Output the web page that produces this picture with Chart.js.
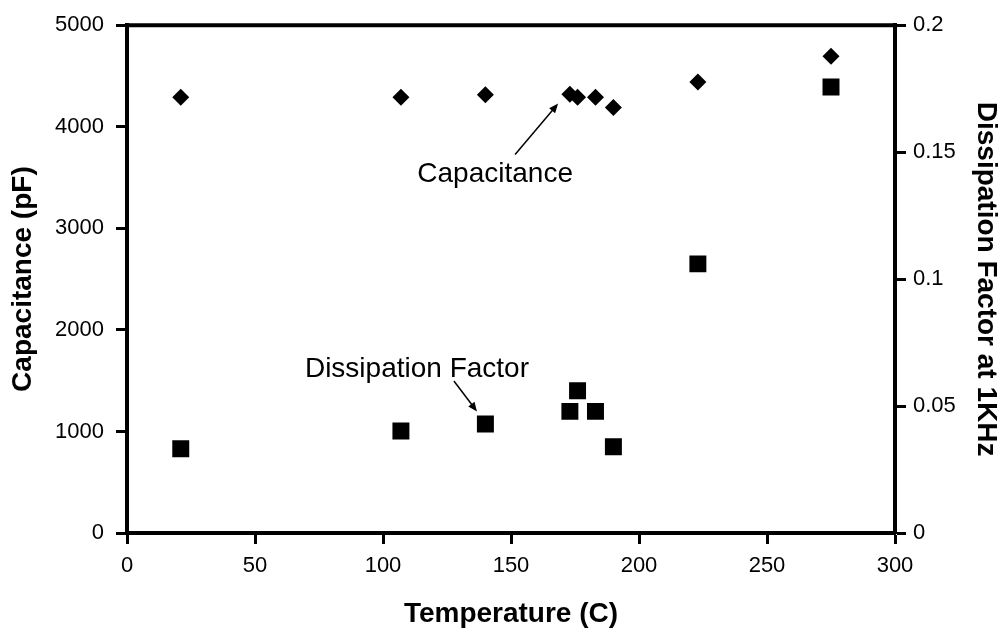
<!DOCTYPE html>
<html>
<head>
<meta charset="utf-8">
<script src="https://cdn.jsdelivr.net/npm/chart.js@4/dist/chart.umd.min.js"></script>
<style>
  html, body { margin: 0; padding: 0; background: #fff; }
  #wrap { width: 1005px; height: 633px; }
</style>
</head>
<body>
<div id="wrap"><canvas id="chart" width="1005" height="633"></canvas></div>
<script>
const temperatures = [21, 107, 140, 173, 176, 183, 190, 223, 275];
const capacitance = [4290, 4290, 4315, 4320, 4290, 4290, 4190, 4440, 4695];
const dissipation = [0.0332, 0.0402, 0.0429, 0.0479, 0.0560, 0.0479, 0.0340, 0.1060, 0.1757];

const xTicks = ['0', '50', '100', '150', '200', '250', '300'];
const capTicks = ['0', '1000', '2000', '3000', '4000', '5000'];
const dfTicks = ['0', '0.05', '0.1', '0.15', '0.2'];

// annotation anchors in data units (x = temperature, y = capacitance scale)
const notes = [
    { text: 'Capacitance', x: 143.8, y: 3456, align: 'center', from: [151.6, 3726], to: [168.4, 4228] },
    { text: 'Dissipation Factor', x: 69.5, y: 1535, align: 'left', from: [127.7, 1496], to: [136.7, 1197] }
];

const FONT = "'Liberation Sans', Arial, sans-serif";

const annotations = {
    id: 'annotations',
    afterDraw(chart) {
        const { ctx, chartArea, scales } = chart;
        ctx.save();
        // top frame line
        ctx.strokeStyle = '#000';
        ctx.lineWidth = 4;
        ctx.beginPath();
        ctx.moveTo(chartArea.left - 2, chartArea.top);
        ctx.lineTo(chartArea.right + 2, chartArea.top);
        ctx.stroke();

        ctx.fillStyle = '#000';
        ctx.font = '28px ' + FONT;
        ctx.textBaseline = 'alphabetic';
        notes.forEach(n => {
            ctx.textAlign = n.align;
            ctx.fillText(n.text, scales.x.getPixelForValue(n.x), scales.y.getPixelForValue(n.y));

            const x1 = scales.x.getPixelForValue(n.from[0]);
            const y1 = scales.y.getPixelForValue(n.from[1]);
            const x2 = scales.x.getPixelForValue(n.to[0]);
            const y2 = scales.y.getPixelForValue(n.to[1]);
            const ang = Math.atan2(y2 - y1, x2 - x1);
            const head = 10;
            ctx.lineWidth = 1.5;
            ctx.beginPath();
            ctx.moveTo(x1, y1);
            ctx.lineTo(x2 - Math.cos(ang) * head * 0.8, y2 - Math.sin(ang) * head * 0.8);
            ctx.stroke();
            ctx.beginPath();
            ctx.moveTo(x2, y2);
            ctx.lineTo(x2 - head * Math.cos(ang - 0.4), y2 - head * Math.sin(ang - 0.4));
            ctx.lineTo(x2 - head * Math.cos(ang + 0.4), y2 - head * Math.sin(ang + 0.4));
            ctx.closePath();
            ctx.fill();
        });
        ctx.restore();
    }
};

const axisGrid = {
    display: true,
    drawOnChartArea: false,
    drawTicks: true,
    tickLength: 11,
    tickWidth: 3,
    color: '#000'
};
const axisBorder = { display: true, width: 4, color: '#000' };

const ctx = document.getElementById('chart').getContext('2d');

new Chart(ctx, {
    type: 'scatter',
    data: {
        datasets: [{
            label: 'Capacitance',
            data: temperatures.map((t, i) => ({ x: t, y: capacitance[i] })),
            yAxisID: 'y',
            pointStyle: 'rectRot',
            pointRadius: 8.5,
            pointBackgroundColor: '#000',
            pointBorderWidth: 0,
            pointHoverRadius: 8.5
        }, {
            label: 'Dissipation Factor',
            data: temperatures.map((t, i) => ({ x: t, y: dissipation[i] })),
            yAxisID: 'y1',
            pointStyle: 'rect',
            pointRadius: 12,
            pointBackgroundColor: '#000',
            pointBorderWidth: 0,
            pointHoverRadius: 12
        }]
    },
    options: {
        responsive: false,
        animation: false,
        layout: { padding: { top: 15, left: 0, right: 0, bottom: 0 } },
        plugins: {
            legend: { display: false },
            tooltip: { enabled: false }
        },
        scales: {
            x: {
                type: 'linear',
                min: 0,
                max: 300,
                afterFit: s => { s.height = 100; },
                grid: axisGrid,
                border: axisBorder,
                ticks: {
                    stepSize: 50,
                    padding: 9,
                    color: '#000',
                    font: { family: FONT, size: 22 },
                    callback: (v, i) => xTicks[i]
                },
                title: {
                    display: true,
                    text: 'Temperature (C)',
                    color: '#000',
                    font: { family: FONT, size: 28, weight: 'bold', lineHeight: 1.2 },
                    padding: { top: 0, bottom: 2 }
                }
            },
            y: {
                type: 'linear',
                position: 'left',
                min: 0,
                max: 5000,
                afterFit: s => { s.width = 127; },
                grid: axisGrid,
                border: axisBorder,
                ticks: {
                    stepSize: 1000,
                    padding: 12,
                    color: '#000',
                    font: { family: FONT, size: 22 },
                    callback: (v, i) => capTicks[i]
                },
                title: {
                    display: true,
                    text: 'Capacitance (pF)',
                    color: '#000',
                    font: { family: FONT, size: 28, weight: 'bold', lineHeight: 1.2 },
                    padding: { top: 6, bottom: 0 }
                }
            },
            y1: {
                type: 'linear',
                position: 'right',
                min: 0,
                max: 0.2,
                afterFit: s => { s.width = 110; },
                grid: axisGrid,
                border: axisBorder,
                ticks: {
                    stepSize: 0.05,
                    padding: 7,
                    color: '#000',
                    font: { family: FONT, size: 22 },
                    callback: (v, i) => dfTicks[i]
                },
                title: {
                    display: true,
                    text: 'Dissipation Factor at 1KHz',
                    color: '#000',
                    font: { family: FONT, size: 28, weight: 'bold', lineHeight: 1.2 },
                    padding: { top: 2, bottom: 0 }
                }
            }
        }
    },
    plugins: [annotations]
});
</script>
</body>
</html>
